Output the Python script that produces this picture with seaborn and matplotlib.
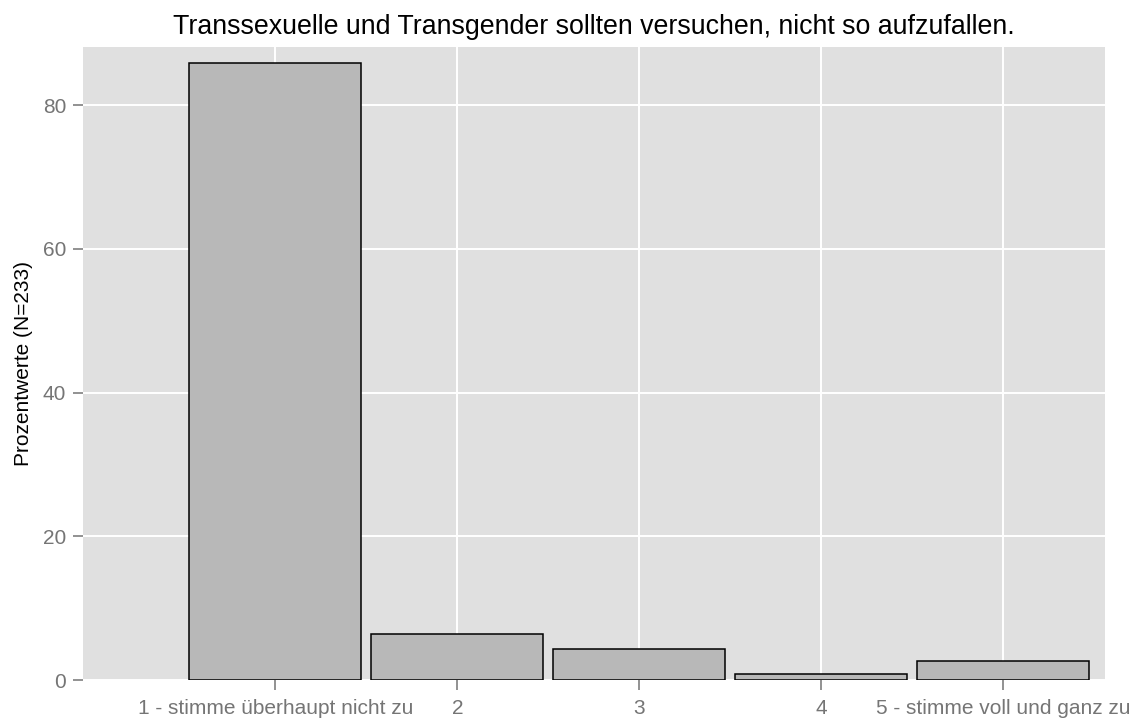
import pandas as pd
import seaborn as sns
import matplotlib.pyplot as plt

# Antworten und Prozentwerte (N=233)
categories = ["1 - stimme überhaupt nicht zu", "2", "3", "4", "5 - stimme voll und ganz zu"]
percent = [85.84, 6.44, 4.29, 0.86, 2.58]
y_ticks = [0, 20, 40, 60, 80]

title = "Transsexuelle und Transgender sollten versuchen, nicht so aufzufallen."
y_label = "Prozentwerte (N=233)"

df = pd.DataFrame({"antwort": categories, "prozent": percent})

sns.set_style("darkgrid", {
    "axes.facecolor": "#E0E0E0",
    "grid.color": "white",
    "axes.edgecolor": "#E0E0E0",
})
plt.rcParams["font.family"] = ["Liberation Sans", "DejaVu Sans"]

fig, ax = plt.subplots(figsize=(11.41, 7.19), dpi=100)
fig.subplots_adjust(left=83 / 1141, right=1105 / 1141, top=1 - 47 / 719, bottom=1 - 680 / 719)

sns.barplot(data=df, x="antwort", y="prozent", order=categories,
            color="#B8B8B8", saturation=1, edgecolor="black", linewidth=1.1,
            width=0.945, ax=ax)

ax.set_xlim(-1.057, 4.56)
ax.set_ylim(0, 88.1)
ax.set_yticks(y_ticks)
ax.grid(True, color="white", linewidth=1.4)
ax.set_axisbelow(True)
for s in ax.spines.values():
    s.set_visible(False)

ax.tick_params(axis="both", which="major", length=7, width=1.2, color="#7F7F7F",
               labelcolor="#757575", labelsize=15, pad=5, bottom=True, left=True)
ax.tick_params(axis="x", pad=7)
ax.set_xlabel("")
ax.set_ylabel(y_label, fontsize=15, color="black", labelpad=7)
ax.set_title(title, fontsize=19.3, color="black", pad=9)

fig.savefig("out.png", dpi=100)
